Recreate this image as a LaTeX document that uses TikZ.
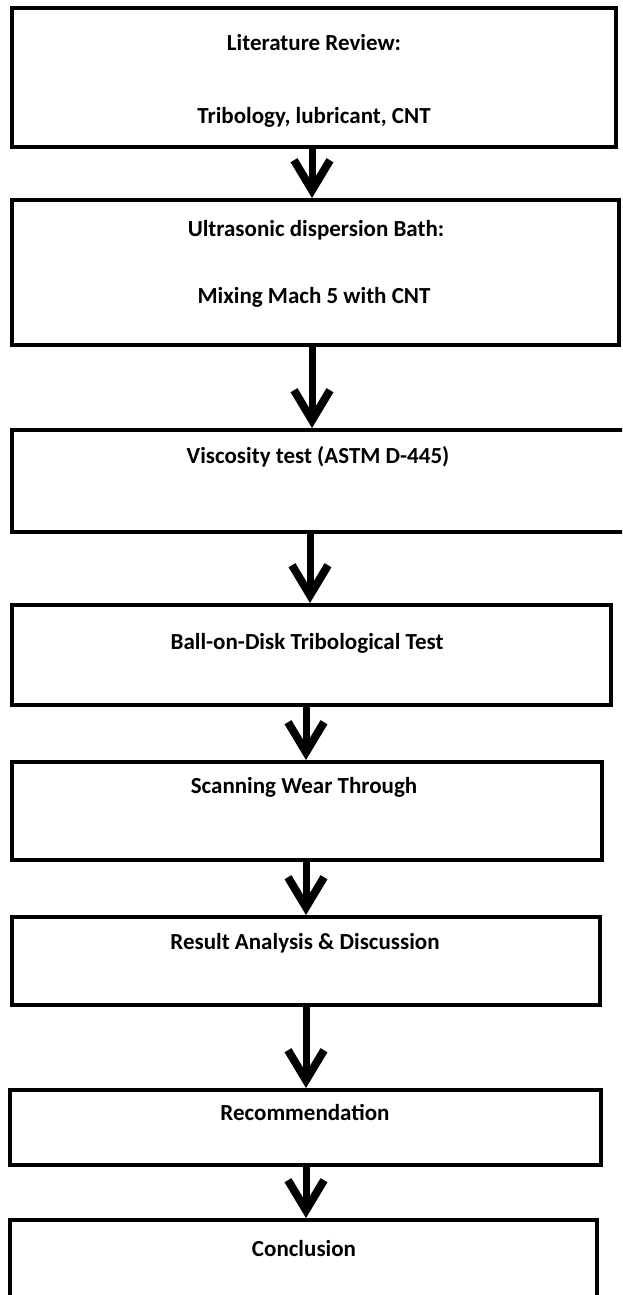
\documentclass[tikz,border=0pt]{standalone}
\usepackage{fontspec}
\setmainfont{Carlito}
\usetikzlibrary{arrows.meta}
\begin{document}
\begin{tikzpicture}[x=0.5pt,y=-0.5pt,
  box/.style={draw=black, line width=2pt, rectangle, inner sep=0pt},
  lbl/.style={font=\fontsize{11.5}{13}\selectfont\bfseries, inner sep=0pt, anchor=center},
  arr/.style={line width=3.5pt, -{Straight Barb[length=15pt,width=18pt,line width=4pt]}}]
\useasboundingbox (0,0) rectangle (622,1295);
\clip (0,0) rectangle (622,1295);
\node[box, minimum width=302pt, minimum height=69.5pt] (b1) at (314,77.5) {};
\node[box, minimum width=303.5pt, minimum height=72.5pt] (b2) at (315.5,272.5) {};
\node[box, minimum width=307pt, minimum height=51pt] (b3) at (319,481) {};
\node[box, minimum width=299.5pt, minimum height=50pt] (b4) at (311.5,655) {};
\node[box, minimum width=295pt, minimum height=49pt] (b5) at (307,811) {};
\node[box, minimum width=294pt, minimum height=44pt] (b6) at (306,961) {};
\node[box, minimum width=295.5pt, minimum height=37.5pt] (b7) at (305.5,1127.5) {};
\node[box, minimum width=293.5pt, minimum height=40pt] (b8) at (303.5,1260) {};

\node[lbl] (t1a) at (314,43) {Literature Review:};
\node[lbl] (t1b) at (314,117) {Tribology, lubricant, CNT};
\node[lbl] (t2a) at (316,230) {Ultrasonic dispersion Bath:};
\node[lbl] (t2b) at (314,297) {Mixing Mach 5 with CNT};
\node[lbl] (t3) at (318,457) {Viscosity test (ASTM D-445)};
\node[lbl] (t4) at (307,643) {Ball-on-Disk Tribological Test};
\node[lbl] (t5) at (304,787) {Scanning Wear Through};
\node[lbl] (t6) at (305,943) {Result Analysis \& Discussion};
\node[lbl] (t7) at (305,1112) {Recommendation};
\node[lbl] (t8) at (304,1248) {Conclusion};

\coordinate (x1) at (312,0);
\coordinate (x2) at (310,0);
\coordinate (x3) at (306,0);
\draw[arr] (b1.south -| x1) -- (b2.north -| x1);
\draw[arr] (b2.south -| x1) -- (b3.north -| x1);
\draw[arr] (b3.south -| x2) -- (b4.north -| x2);
\draw[arr] (b4.south -| x3) -- (b5.north -| x3);
\draw[arr] (b5.south -| x3) -- (b6.north -| x3);
\draw[arr] (b6.south -| x3) -- (b7.north -| x3);
\draw[arr] (b7.south -| x3) -- (b8.north -| x3);
\end{tikzpicture}
\end{document}
